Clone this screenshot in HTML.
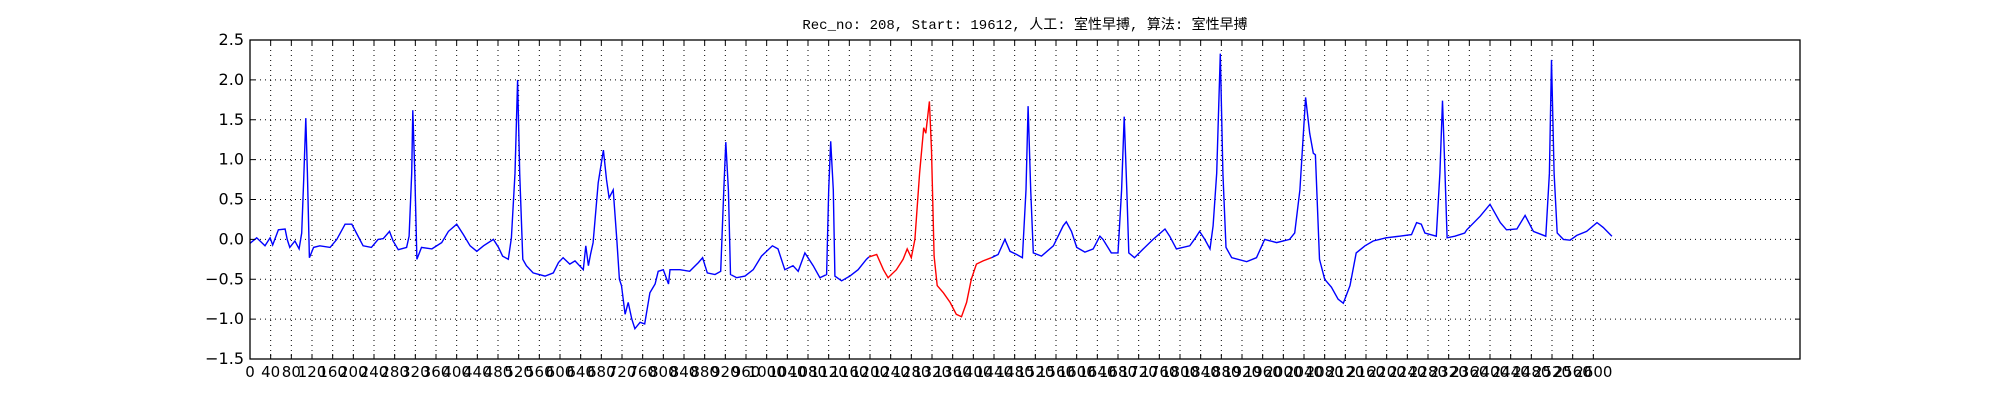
<!DOCTYPE html>
<html><head><meta charset="utf-8"><style>
html,body{margin:0;padding:0;background:#fff;}
svg{display:block;}
</style></head><body>
<svg id="chart" width="2000" height="400" xmlns="http://www.w3.org/2000/svg">
<text x="1025" y="29" text-anchor="middle" font-family="'Liberation Mono','Noto Sans CJK SC',monospace" font-size="14" fill="#000">Rec_no: 208, Start: 19612, 人工: 室性早搏, 算法: 室性早搏</text>
<g id="grid"></g>
<g id="series"></g>
<g id="axes"></g>
</svg>
<script>
const samples = [0,13,29,39,44,55,68,72,77,87,95,100,104,108,111,115,123,135,155,168,184,197,206,219,235,248,258,270,277,287,303,308,313,315,319,323,332,352,371,384,400,413,426,439,452,471,481,489,500,506,513,518,522,528,535,548,571,587,597,606,619,629,645,650,655,659,664,674,684,690,695,703,710,715,719,726,732,739,745,755,764,774,784,790,800,810,813,832,851,868,876,885,900,911,917,921,926,930,942,958,974,990,1011,1022,1035,1051,1061,1074,1090,1103,1116,1120,1124,1129,1132,1145,1161,1177,1193,1198,1213,1226,1235,1251,1264,1272,1280,1287,1296,1304,1308,1315,1319,1324,1330,1342,1355,1367,1377,1387,1396,1406,1419,1435,1448,1461,1471,1484,1495,1502,1506,1511,1516,1532,1555,1574,1580,1590,1600,1616,1632,1645,1651,1667,1680,1687,1692,1697,1701,1712,1729,1748,1771,1780,1793,1819,1830,1838,1848,1858,1864,1871,1878,1883,1889,1900,1929,1948,1964,1987,2012,2022,2032,2043,2051,2058,2062,2070,2080,2093,2106,2116,2129,2141,2158,2174,2199,2225,2248,2258,2267,2274,2296,2303,2308,2313,2317,2332,2351,2355,2381,2400,2420,2432,2452,2468,2484,2508,2515,2519,2524,2530,2542,2555,2568,2587,2607,2619,2636];
const values = [-0.05,0.02,-0.08,0.02,-0.07,0.12,0.13,0,-0.1,-0.02,-0.12,0.08,0.75,1.52,0.83,-0.23,-0.1,-0.08,-0.1,0,0.19,0.19,0.08,-0.08,-0.1,0,0.01,0.1,-0.02,-0.13,-0.1,0.04,0.83,1.62,0.83,-0.25,-0.1,-0.12,-0.04,0.1,0.19,0.06,-0.08,-0.15,-0.08,0,-0.1,-0.21,-0.25,0.02,0.83,2.0,0.83,-0.25,-0.33,-0.42,-0.46,-0.42,-0.29,-0.23,-0.31,-0.27,-0.38,-0.08,-0.33,-0.19,-0.04,0.71,1.12,0.75,0.52,0.62,0,-0.5,-0.58,-0.94,-0.79,-1.0,-1.12,-1.04,-1.06,-0.67,-0.56,-0.4,-0.38,-0.56,-0.38,-0.38,-0.4,-0.29,-0.23,-0.42,-0.44,-0.4,0.62,1.22,0.62,-0.44,-0.48,-0.46,-0.38,-0.21,-0.08,-0.12,-0.38,-0.33,-0.4,-0.17,-0.33,-0.48,-0.44,0.62,1.23,0.62,-0.46,-0.52,-0.46,-0.38,-0.25,-0.22,-0.19,-0.38,-0.48,-0.38,-0.25,-0.12,-0.23,0,0.83,1.4,1.33,1.73,1.12,-0.21,-0.58,-0.67,-0.79,-0.94,-0.97,-0.79,-0.5,-0.31,-0.27,-0.23,-0.19,0,-0.15,-0.19,-0.23,0.62,1.67,0.62,-0.17,-0.21,-0.08,0.17,0.22,0.1,-0.1,-0.16,-0.12,0.04,0,-0.17,-0.17,0.62,1.54,0.62,-0.17,-0.23,-0.12,0,0.13,0.04,-0.12,-0.08,0.02,0.1,0,-0.12,0.17,0.83,2.33,0.83,-0.1,-0.23,-0.28,-0.23,0,-0.04,0,0.08,0.62,1.78,1.33,1.08,1.06,-0.25,-0.5,-0.6,-0.75,-0.8,-0.58,-0.17,-0.08,-0.02,0.02,0.04,0.06,0.21,0.19,0.08,0.04,0.83,1.74,0.83,0.02,0.04,0.08,0.12,0.29,0.44,0.21,0.12,0.13,0.3,0.1,0.04,0.83,2.25,0.83,0.08,0,-0.01,0.05,0.1,0.21,0.15,0.04];
const redStartSample = 1198;
const redEndSample = 1435;
const yTicks = [-1.5,-1.0,-0.5,0.0,0.5,1.0,1.5,2.0,2.5];
const xTicks = [];
for (let t = 0; t <= 2600; t += 40) xTicks.push(t);

const L=250,R=1800,T=40,B=359,XMAX=3000,YMIN=-1.5,YMAX=2.5;
const NS='http://www.w3.org/2000/svg';
function xs(v){return L+(v/XMAX)*(R-L);}
function ys(v){return B-(v-YMIN)/(YMAX-YMIN)*(B-T);}
function mk(tag,attrs,parent){const e=document.createElementNS(NS,tag);for(const k in attrs)e.setAttribute(k,attrs[k]);parent.appendChild(e);return e;}
const grid=document.getElementById('grid'),series=document.getElementById('series'),axes=document.getElementById('axes');

xTicks.forEach(t=>{
  const x=xs(t);
  const g=mk('line',{x1:x,x2:x,y1:T,y2:B,stroke:'#000','stroke-width':1,'stroke-dasharray':'1,4'},grid);
  
  
  const tk=mk('path',{d:`M${x},${B}v-5M${x},${T}v5`,stroke:'#000','stroke-width':1},axes);
  
  
  const lb=mk('text',{x:x,y:B+18,'text-anchor':'middle','font-family':"'DejaVu Sans','Liberation Sans',sans-serif",'font-size':15,fill:'#000'},axes);
  lb.textContent=String(t);
  
  
});
yTicks.forEach(t=>{
  const y=ys(t);
  if(t>YMIN&&t<YMAX){
    const g=mk('line',{x1:L,x2:R,y1:y,y2:y,stroke:'#000','stroke-width':1,'stroke-dasharray':'1,4'},grid);
    
    
  }
  const tk=mk('path',{d:`M${L},${y}h5M${R},${y}h-5`,stroke:'#000','stroke-width':1},axes);
  
  
  const lb=mk('text',{x:L-6,y:y+5,'text-anchor':'end','font-family':"'DejaVu Sans','Liberation Sans',sans-serif",'font-size':16,fill:'#000'},axes);
  lb.textContent=(t<0?'\u2212':'')+Math.abs(t).toFixed(1);
  
  
});
const frame=mk('rect',{x:L,y:T,width:R-L,height:B-T,fill:'none',stroke:'#000','stroke-width':1.3},axes);



function seg(cond){const p=[];samples.forEach((s,i)=>{if(cond(s))p.push(xs(s).toFixed(1)+','+ys(values[i]).toFixed(1));});return p.join(' ');}
const b1=mk('polyline',{points:seg(s=>s<=redStartSample),fill:'none',stroke:'#0000ff','stroke-width':1.4},series);


const rd=mk('polyline',{points:seg(s=>s>=redStartSample&&s<=redEndSample),fill:'none',stroke:'#ff0000','stroke-width':1.4},series);


const b2=mk('polyline',{points:seg(s=>s>=redEndSample),fill:'none',stroke:'#0000ff','stroke-width':1.4},series);


</script>
</body></html>
